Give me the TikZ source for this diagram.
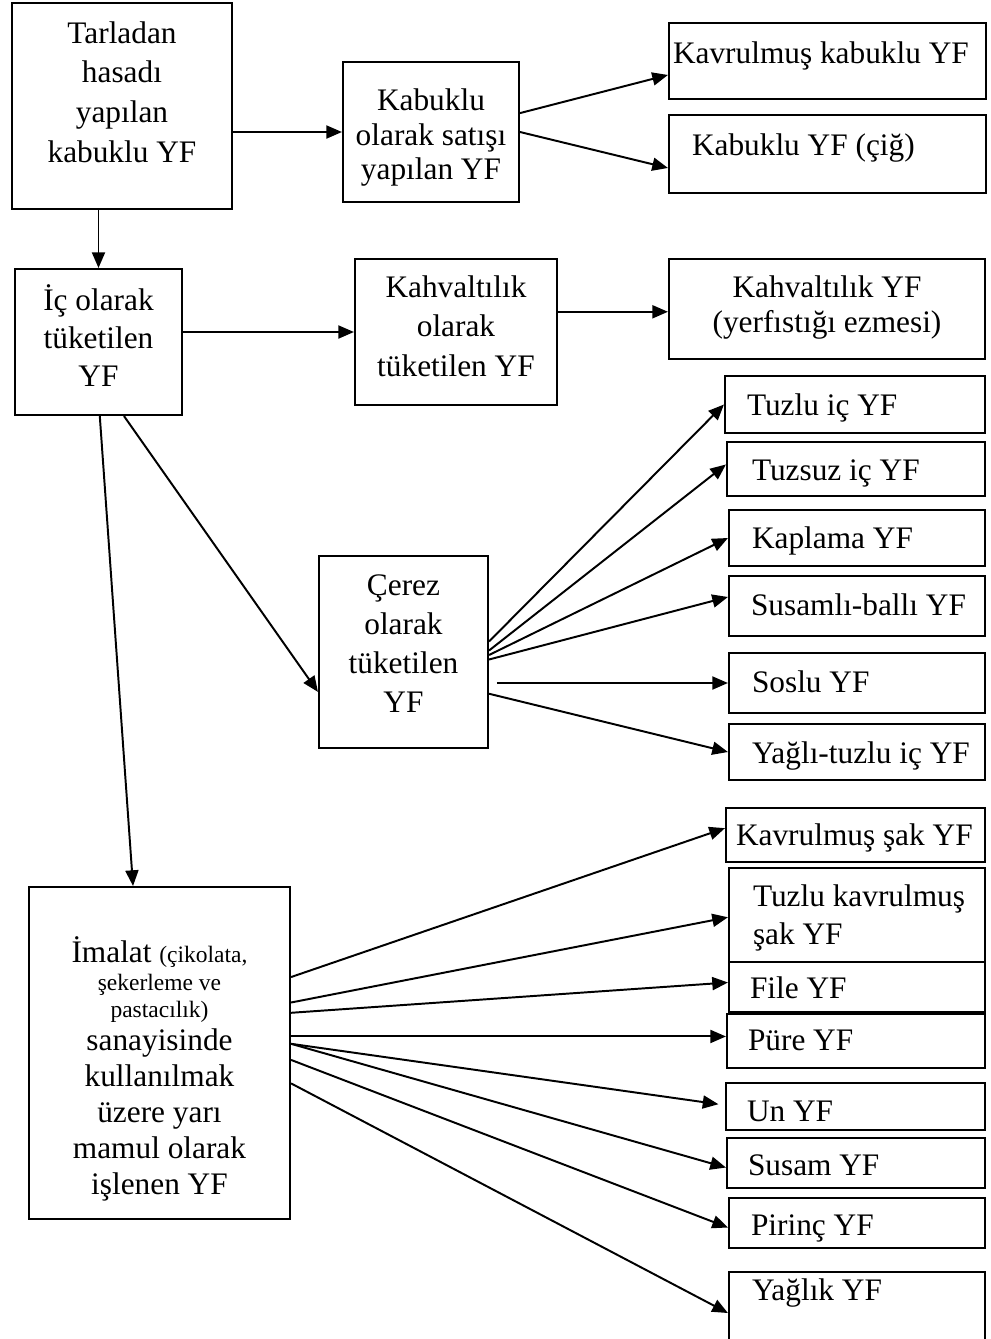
\documentclass[tikz,border=0pt]{standalone}
\usepackage{fontspec}
\setmainfont{Liberation Serif}
\usetikzlibrary{arrows.meta}
\definecolor{fg}{HTML}{000000}
\newlength{\upx}
\setlength{\upx}{0.383pt}
\newcommand{\lpad}[1]{\hspace*{#1\upx}}
% box from its corners (x1,y1,x2,y2) and the first baseline
\newcommand{\yfbox}[8][]{%
  \pgfmathsetlengthmacro\bxw{(#5-#3)*\upx}%
  \pgfmathsetlengthmacro\bxh{(#7-#4)*\upx}%
  \pgfmathsetlengthmacro\bxd{(#6-#7)*\upx}%
  \node[box,text width=\bxw,text height=\bxh,text depth=\bxd,#1] (#2) at ({(#3+#5)/2},{(#4+#6)/2}) {#8};}
\tikzset{
  box/.style={draw=fg,line width=0.8pt,inner sep=0pt,align=flush center,font=\fontsize{12}{14.5}\selectfont},
  leaf/.style={align=flush left},
  arr/.style={draw=fg,line width=0.75pt,-{Triangle[length=6pt,width=5pt]}}
}

\begin{document}
\begin{tikzpicture}[x=0.383pt,y=-0.383pt]
  \useasboundingbox[fill=white] (0,0) rectangle (991,1339);

  \yfbox[font=\fontsize{12}{15.3}\selectfont]{tarla}{12}{3}{232}{209}{43}{Tarladan\\hasadı\\yapılan\\kabuklu YF}
  \yfbox[font=\fontsize{12}{13.4}\selectfont]{kabuklu}{343}{62}{519}{202}{110}{Kabuklu\\olarak satışı\\yapılan YF}
  \yfbox[leaf]{kavkab}{669}{23}{986}{99}{63}{\lpad{4}Kavrulmuş kabuklu YF}
  \yfbox[leaf]{kabcig}{669}{115}{986}{193}{155}{\lpad{23}Kabuklu YF (çiğ)}
  \yfbox[font=\fontsize{12}{14.7}\selectfont]{ic}{15}{269}{182}{415}{310}{İç olarak\\tüketilen\\YF}
  \yfbox[font=\fontsize{12}{15.3}\selectfont]{kahv}{355}{259}{557}{405}{297}{Kahvaltılık\\olarak\\tüketilen YF}
  \yfbox[font=\fontsize{12}{13.4}\selectfont]{kahvyf}{669}{259}{985}{359}{297}{Kahvaltılık YF\\(yerfıstığı ezmesi)}
  \yfbox[font=\fontsize{12}{15}\selectfont]{cerez}{319}{556}{488}{748}{595}{Çerez\\olarak\\tüketilen\\YF}
  \yfbox[leaf]{tuzlu}{725}{376}{985}{433}{415}{\lpad{22}Tuzlu iç YF}
  \yfbox[leaf]{tuzsuz}{727}{442}{985}{496}{480}{\lpad{25}Tuzsuz iç YF}
  \yfbox[leaf]{kaplama}{729}{510}{985}{566}{548}{\lpad{23}Kaplama YF}
  \yfbox[leaf]{susamli}{729}{576}{985}{636}{615}{\lpad{22}Susamlı-ballı YF}
  \yfbox[leaf]{soslu}{729}{653}{985}{713}{692}{\lpad{23}Soslu YF}
  \yfbox[leaf]{yaglituzlu}{729}{724}{985}{780}{763}{\lpad{23}Yağlı-tuzlu iç YF}
  \yfbox[font=\fontsize{12}{13.8}\selectfont]{imalat}{29}{887}{290}{1219}{962}{İmalat {\small (çikolata,}\\[-2.7pt]{\small şekerleme ve}\\[-3.8pt]{\small pastacılık)}\\[-1.2pt]sanayisinde\\kullanılmak\\üzere yarı\\mamul olarak\\işlenen YF}
  \yfbox[leaf]{kavsak}{726}{808}{985}{862}{845}{\lpad{10}Kavrulmuş şak YF}
  \yfbox[leaf,font=\fontsize{12}{14.6}\selectfont]{tuzkav}{729}{868}{985}{962}{906}{\lpad{24}Tuzlu kavrulmuş\\\lpad{24}şak YF}
  \yfbox[leaf]{file}{729}{962}{985}{1012}{998}{\lpad{21}File YF}
  \yfbox[leaf]{pure}{727}{1014}{985}{1068}{1050}{\lpad{21}Püre YF}
  \yfbox[leaf]{un}{726}{1083}{985}{1130}{1121}{\lpad{21}Un YF}
  \yfbox[leaf]{susam}{727}{1138}{985}{1188}{1175}{\lpad{21}Susam YF}
  \yfbox[leaf]{pirinc}{729}{1198}{985}{1248}{1235}{\lpad{22}Pirinç YF}
  \yfbox[leaf]{yaglik}{729}{1272}{985}{1345}{1300}{\lpad{23}Yağlık YF}

  \draw[arr] (tarla.east |- kabuklu.west) -- (kabuklu.west);
  \draw[arr] (tarla.south -| ic.north) -- (ic.north);
  \draw[arr] (kabuklu.12) -- (kavkab.185);
  \draw[arr] (kabuklu.east) -- (kabcig.185);
  \draw[arr] (ic.east |- kahv.west) -- (kahv.west);
  \draw[arr] (kahv.east |- kahvyf.181) -- (kahvyf.181);
  \draw[arr] (ic.289) -- (cerez.205);
  \draw[arr] (ic.271) -- (imalat.99);

  \foreach \st/\en in {7/tuzlu.west,1/tuzsuz.178,358/kaplama.west,355/susamli.176,334/yaglituzlu.west}
    \draw[arr] (cerez.\st) -- (\en);
  \draw[arr] ([xshift=3pt]cerez.east |- soslu.west) -- (soslu.west);

  \foreach \st/\en in {30/kavsak.177,21/tuzkav.181,17/file.178,4/susam.182,357/pirinc.182,347/yaglik.182}
    \draw[arr] (imalat.\st) -- (\en);
  \draw[arr] (imalat.east |- pure.178) -- (pure.178);
  \draw[arr] (imalat.4) -- ([xshift=-2.5pt]un.179);
\end{tikzpicture}
\end{document}
